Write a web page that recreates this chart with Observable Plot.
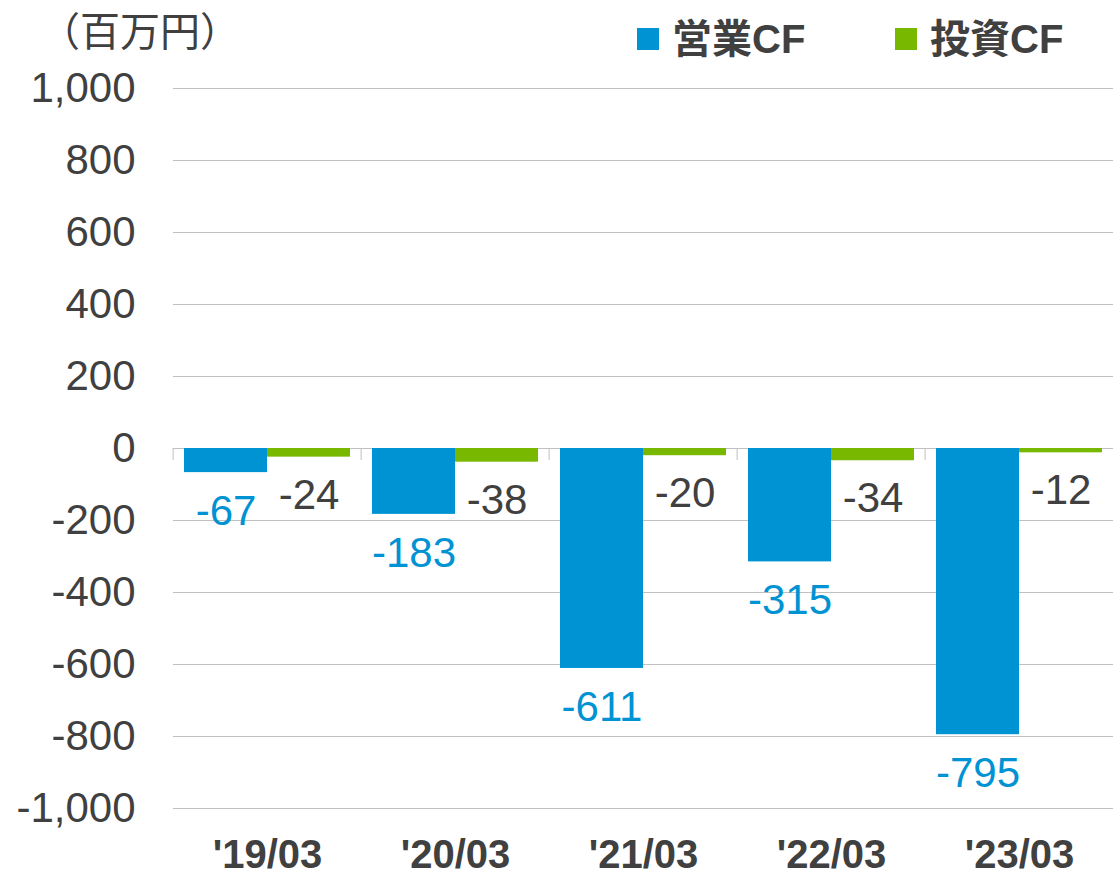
<!DOCTYPE html>
<html>
<head>
<meta charset="utf-8">
<script src="https://cdn.jsdelivr.net/npm/d3@7"></script>
<script src="https://cdn.jsdelivr.net/npm/@observablehq/plot@0.6"></script>
<style>
  html, body { margin: 0; padding: 0; background: #ffffff; }
  body { width: 1115px; height: 877px; overflow: hidden; font-family: "Liberation Sans", Arial, "Noto Sans CJK JP", sans-serif; color: #404040; }
  #header { position: relative; width: 1115px; height: 66px; }
  #unit { position: absolute; left: 40px; top: 9px; font-size: 40px; line-height: 1; font-family: "Noto Sans CJK JP", sans-serif; color: #404040; white-space: nowrap; }
  .legend-item { position: absolute; top: 19px; display: flex; align-items: center; height: 40px; font-size: 40px; line-height: 1; font-weight: bold; color: #404040; white-space: nowrap; font-family: "Liberation Sans", Arial, "Noto Sans CJK JP", sans-serif; }
  .legend-item .sw { width: 22px; height: 22px; margin-right: 13px; }
  #chart svg { display: block; }
</style>
</head>
<body>
<div id="header">
  <div id="unit"></div>
</div>
<div id="chart"></div>
<script>
const unitLabel = "（百万円）";
const years = ["'19/03", "'20/03", "'21/03", "'22/03", "'23/03"];
const series = ["営業CF", "投資CF"];
const operatingCF = [-67, -183, -611, -315, -795];
const investingCF = [-24, -38, -20, -34, -12];
const yTicks = [-1000, -800, -600, -400, -200, 0, 200, 400, 600, 800, 1000];
const barColors = ["#0093d3", "#78b800"];
const labelColors = ["#0093d3", "#404040"];
const legendLefts = [637, 895];

const data = years.flatMap((year, i) => [
  {year, series: series[0], value: operatingCF[i]},
  {year, series: series[1], value: investingCF[i]}
]);

document.getElementById("unit").textContent = unitLabel;
const header = document.getElementById("header");
series.forEach((s, i) => {
  const item = document.createElement("div");
  item.className = "legend-item";
  item.style.left = legendLefts[i] + "px";
  const sw = document.createElement("div");
  sw.className = "sw";
  sw.style.background = barColors[i];
  const t = document.createElement("span");
  t.textContent = s;
  item.appendChild(sw);
  item.appendChild(t);
  header.appendChild(item);
});

const W = 1115, H = 811, mL = 171, mR = 0, mT = 22, mB = 69;
const facetW = (W - mL - mR) / years.length;
const fmt = d => d.toLocaleString("en-US");

const chart = Plot.plot({
  width: W,
  height: H,
  marginLeft: mL,
  marginRight: mR,
  marginTop: mT,
  marginBottom: mB,
  style: {fontFamily: "'Liberation Sans', Arial, sans-serif", color: "#404040", background: "#ffffff", overflow: "visible"},
  fx: {domain: years, padding: 0, label: null},
  x: {domain: series, axis: null, paddingInner: 0, paddingOuter: 0.13},
  y: {domain: [-1000, 1000], label: null},
  color: {domain: series, range: barColors},
  marks: [
    Plot.ruleY(yTicks, {stroke: "#c0c0c0", strokeWidth: 1}),
    Plot.ruleX(years, {fx: d => d, x: null, y1: 0, y2: 0, insetBottom: -12, dx: -facetW / 2, stroke: "#c0c0c0", strokeWidth: 1}),
    Plot.barY(data, {fx: "year", x: "series", y: "value", fill: "series"}),
    Plot.text(data.filter(d => d.series === series[0]), {fx: "year", x: "series", y: "value", text: d => fmt(d.value), dy: 39, fill: labelColors[0], fontSize: 42}),
    Plot.text(data.filter(d => d.series === series[1]), {fx: "year", x: "series", y: "value", text: d => fmt(d.value), dy: 38, fill: labelColors[1], fontSize: 42}),
    Plot.axisY({ticks: yTicks, tickFormat: fmt, tickSize: 0, tickPadding: 38, fontSize: 42, fill: "#404040", label: null}),
    Plot.axisFx({anchor: "bottom", tickSize: 0, tickPadding: 31, fontSize: 40, fontWeight: "bold", fill: "#404040", label: null})
  ]
});
document.getElementById("chart").appendChild(chart);
</script>
</body>
</html>
